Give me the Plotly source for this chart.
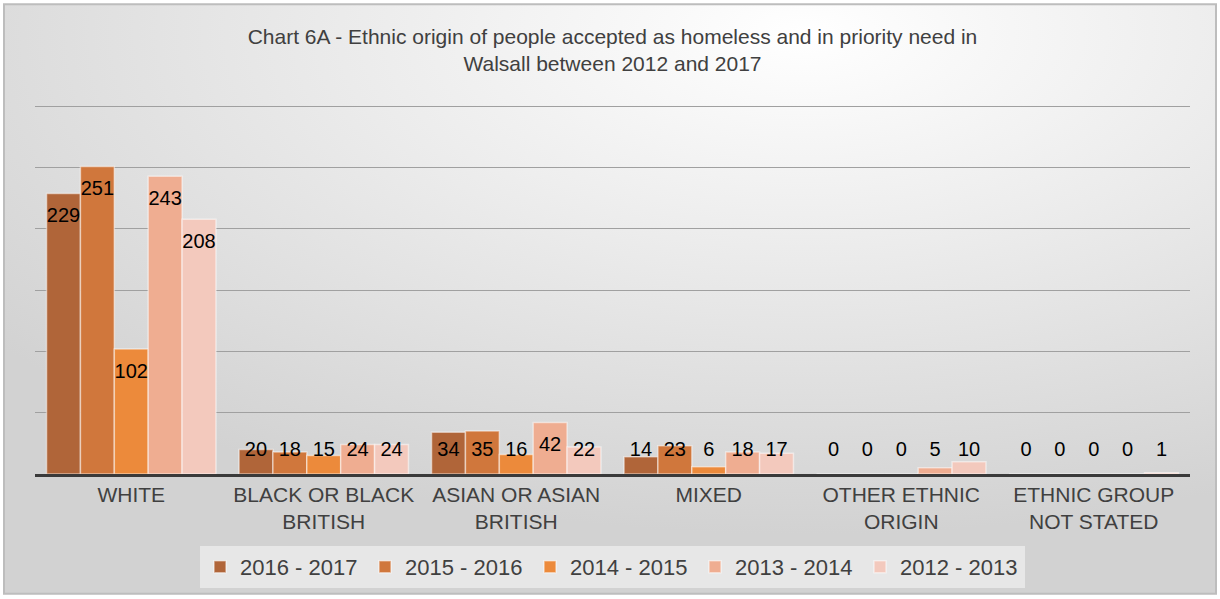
import base64
import plotly.graph_objects as go

# ---- data -------------------------------------------------------------
categories = [
    "WHITE",
    "BLACK OR BLACK<br>BRITISH",
    "ASIAN OR ASIAN<br>BRITISH",
    "MIXED",
    "OTHER ETHNIC<br>ORIGIN",
    "ETHNIC GROUP<br>NOT STATED",
]
years = ["2016 - 2017", "2015 - 2016", "2014 - 2015", "2013 - 2014", "2012 - 2013"]
y2016_17 = [229, 20, 34, 14, 0, 0]
y2015_16 = [251, 18, 35, 23, 0, 0]
y2014_15 = [102, 15, 16, 6, 0, 0]
y2013_14 = [243, 24, 42, 18, 5, 0]
y2012_13 = [208, 24, 22, 17, 10, 1]
series = [y2016_17, y2015_16, y2014_15, y2013_14, y2012_13]

title_text = ("Chart 6A - Ethnic origin of people accepted as homeless and in priority need in"
              "<br>Walsall between 2012 and 2017")

# ---- styling -----------------------------------------------------------
colors = ["#b06539", "#d0773c", "#ec8a3b", "#efad91", "#f3c9bd"]
FONT = "Liberation Sans, Arial, sans-serif"
W, H = 1220, 599
ML, MR, MT, MB = 35, 30, 104, 124
BARGAP = 0.12
YMAX = 302
LABEL_DROP = 19.5   # value labels sit just inside the top of each bar
LABEL_FLOOR = 18.7  # ...but never lower than this above the baseline

plot_w = W - ML - MR
plot_h = H - MT - MB


def px_x(p):
    return (p - ML) / plot_w


def px_y(p):
    return (H - MB - p) / plot_h


fig = go.Figure()

n = len(series)
bar_w = (1 - BARGAP) / n
xs = list(range(len(categories)))

for j, (name, vals) in enumerate(zip(years, series)):
    fig.add_trace(go.Bar(
        x=xs, y=vals, name=name,
        marker=dict(color=colors[j], line=dict(color="rgba(255,255,255,0.5)", width=1.5)),
        hoverinfo="skip",
    ))

for j, vals in enumerate(series):
    fig.add_trace(go.Scatter(
        x=[i + bar_w * (j - (n - 1) / 2) for i in xs],
        y=[max(v - LABEL_DROP, LABEL_FLOOR) for v in vals],
        text=[str(v) for v in vals],
        mode="text",
        textfont=dict(family=FONT, size=20, color="#000000"),
        showlegend=False, hoverinfo="skip", cliponaxis=False,
    ))

# soft radial background inside the frame
svg = f"""<svg xmlns='http://www.w3.org/2000/svg' width='{W}' height='{H}'>
<defs><radialGradient id='g' cx='0.66' cy='0.05' r='0.85'>
<stop offset='0' stop-color='#ffffff'/>
<stop offset='0.45' stop-color='#ebebeb'/>
<stop offset='1' stop-color='#d2d2d2'/>
</radialGradient></defs>
<rect width='{W}' height='{H}' fill='url(#g)'/></svg>"""
bg_uri = "data:image/svg+xml;base64," + base64.b64encode(svg.encode()).decode()

fx0, fx1, fy0, fy1 = 4, 1216, 4, 595
fig.add_layout_image(dict(
    source=bg_uri, xref="paper", yref="paper",
    x=px_x(fx0), y=px_y(fy0), sizex=px_x(fx1) - px_x(fx0), sizey=px_y(fy0) - px_y(fy1),
    xanchor="left", yanchor="top", sizing="stretch", layer="below",
))
fig.add_shape(type="rect", xref="paper", yref="paper",
              x0=px_x(fx0), x1=px_x(fx1), y0=px_y(fy1), y1=px_y(fy0),
              line=dict(color="#bdbdbd", width=2), layer="below")

fig.update_layout(
    width=W, height=H,
    margin=dict(l=ML, r=MR, t=MT, b=MB),
    paper_bgcolor="#ffffff",
    plot_bgcolor="rgba(0,0,0,0)",
    barmode="group", bargap=BARGAP, bargroupgap=0,
    font=dict(family=FONT, color="#404040"),
    title=dict(text=title_text, x=0.5, xref="paper", xanchor="center",
               y=1 - 44 / H, yref="container", yanchor="top",
               font=dict(family=FONT, size=21, color="#404040")),
    xaxis=dict(
        range=[-0.5, len(categories) - 0.5], tickvals=xs, ticktext=categories,
        showline=True, linecolor="#3a3a3a", linewidth=2.5,
        showgrid=False, zeroline=False, ticks="",
        tickfont=dict(family=FONT, size=21, color="#404040"),
    ),
    yaxis=dict(
        range=[0, YMAX], tick0=0, dtick=50, showticklabels=False,
        gridcolor="#a0a0a0", gridwidth=1.2, zeroline=False,
    ),
    legend=dict(
        orientation="h", x=0.5, xanchor="center", y=px_y(546), yanchor="top",
        bgcolor="rgba(238,238,238,0.75)", font=dict(family=FONT, size=22, color="#404040"),
        entrywidth=120, entrywidthmode="pixels", itemwidth=30, traceorder="normal",
    ),
)

fig.write_html("out.html")
